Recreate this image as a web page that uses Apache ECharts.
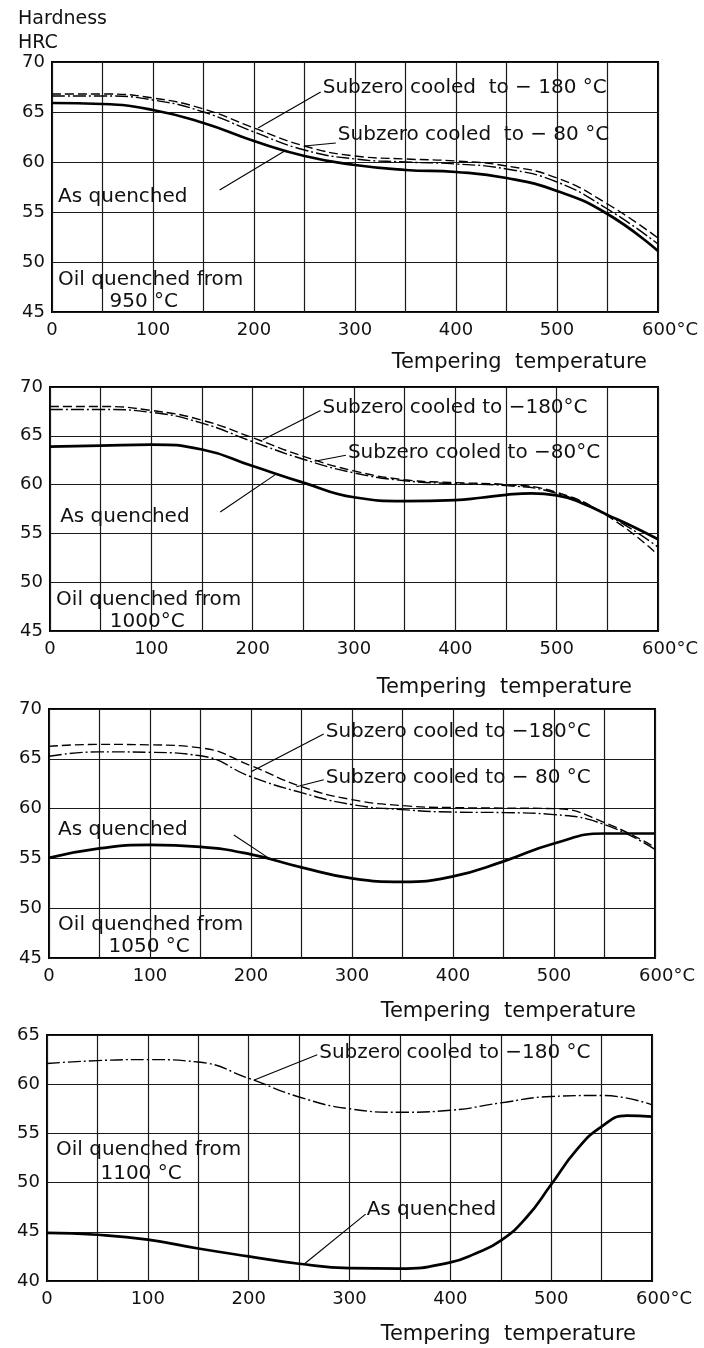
<!DOCTYPE html>
<html>
<head>
<meta charset="utf-8">
<script src="https://cdn.jsdelivr.net/npm/echarts@6/dist/echarts.min.js"></script>
<style>
  html, body { margin: 0; padding: 0; background: #fff; }
  #chart { width: 704px; height: 1348px; }
</style>
</head>
<body>
<div id="chart"></div>
<script>
// Tempering temperatures (°C) at which hardness was read
const temps = [0, 50, 100, 150, 200, 250, 300, 350, 400, 450, 500, 550, 600];
const temps1000q = [0, 50, 100, 150, 200, 250, 300, 350, 400, 425, 450, 475, 500, 525, 550, 575, 600];
const temps1100q = [0, 50, 100, 150, 200, 250, 300, 350, 400, 425, 450, 475, 500, 525, 550, 575, 600];

// Hardness HRC, oil quenched from 950 °C
const aq950 = [65.9, 65.8, 65.2, 63.9, 62.1, 60.6, 59.7, 59.2, 59.0, 58.4, 57.1, 54.8, 51.1];
const sz80_950 = [66.8, 66.8, 66.4, 65.3, 63.4, 61.6, 60.6, 60.3, 60.1, 59.6, 58.4, 55.8, 52.4];
const sz180_950 = [66.6, 66.6, 66.2, 65.0, 63.0, 61.2, 60.3, 60.0, 59.8, 59.3, 58.0, 55.3, 51.8];

// Oil quenched from 1000 °C
const aq1000 = [63.9, 64.0, 64.1, 63.6, 61.9, 60.2, 58.7, 58.3, 58.4, 58.65, 58.95, 59.1, 58.9, 58.1, 56.9, 55.7, 54.4];
const sz80_1000 = [68.0, 68.0, 67.6, 66.6, 64.8, 62.9, 61.4, 60.5, 60.2, 60.0, 59.2, 56.8, 52.8];
const sz180_1000 = [67.7, 67.7, 67.4, 66.3, 64.4, 62.6, 61.2, 60.4, 60.1, 59.9, 59.1, 56.9, 53.6];

// Oil quenched from 1050 °C
const aq1050 = [55.05, 56.0, 56.35, 56.15, 55.4, 54.1, 53.0, 52.65, 53.2, 54.7, 56.5, 57.5, 57.5];
const sz80_1050 = [66.25, 66.45, 66.4, 66.1, 64.3, 62.2, 60.9, 60.3, 60.1, 60.05, 60.0, 58.6, 56.1];
const sz180_1050 = [65.25, 65.7, 65.65, 65.3, 63.2, 61.6, 60.4, 59.9, 59.65, 59.6, 59.4, 58.4, 55.9];

// Oil quenched from 1100 °C
const aq1100 = [44.9, 44.7, 44.2, 43.3, 42.5, 41.75, 41.3, 41.25, 41.9, 42.8, 44.1, 46.4, 49.8, 53.3, 55.7, 56.8, 56.7];
const sz180_1100 = [62.1, 62.4, 62.5, 62.25, 60.6, 58.7, 57.5, 57.15, 57.35, 58.1, 58.75, 58.85, 57.9];

// Axis ranges
const yRanges = [[45, 70], [45, 70], [45, 70], [40, 65]];
const xRange = [0, 600];

const FONT = '"DejaVu Sans", sans-serif';
const INK = '#111';

const gridBoxes = [
  { left: 52, top: 62, width: 606, height: 250 },
  { left: 50, top: 387, width: 608, height: 244 },
  { left: 49, top: 709, width: 606, height: 249 },
  { left: 47, top: 1035, width: 605, height: 246 }
];

const pair = (xs, ys) => xs.map((x, i) => [x, ys[i]]);

const styles = {
  aq: { color: '#000', width: 2.7, type: 'solid' },
  sz80: { color: '#000', width: 1.4, type: [9, 4] },
  sz180: { color: '#000', width: 1.4, type: [13, 3, 2, 3] }
};

const panels = [
  [['As quenched', temps, aq950, 'aq'], ['-80', temps, sz80_950, 'sz80'], ['-180', temps, sz180_950, 'sz180']],
  [['As quenched', temps1000q, aq1000, 'aq'], ['-80', temps, sz80_1000, 'sz80'], ['-180', temps, sz180_1000, 'sz180']],
  [['As quenched', temps, aq1050, 'aq'], ['-80', temps, sz80_1050, 'sz80'], ['-180', temps, sz180_1050, 'sz180']],
  [['As quenched', temps1100q, aq1100, 'aq'], ['-180', temps, sz180_1100, 'sz180']]
];

const gridLine = { show: true, lineStyle: { color: '#1a1a1a', width: 1.2 } };

const option = {
  animation: false,
  backgroundColor: '#fff',
  grid: gridBoxes.map(b => Object.assign({ show: true, borderColor: '#000', borderWidth: 2, backgroundColor: 'transparent' }, b)),
  xAxis: gridBoxes.map((b, i) => ({
    type: 'value', gridIndex: i, min: xRange[0], max: xRange[1], interval: 50,
    axisLine: { show: false }, axisTick: { show: false },
    splitLine: gridLine,
    axisLabel: {
      margin: 9, color: INK, fontFamily: FONT, fontSize: 18,
      formatter: v => v % 100 !== 0 ? '' : (v === 600 ? '{pad|}600{u|°C}' : String(v)),
      rich: { pad: { width: 24 }, u: { fontFamily: FONT, fontSize: 18, color: INK } }
    }
  })),
  yAxis: gridBoxes.map((b, i) => ({
    type: 'value', gridIndex: i, min: yRanges[i][0], max: yRanges[i][1], interval: 5,
    axisLine: { show: false }, axisTick: { show: false },
    splitLine: gridLine,
    axisLabel: { margin: 7, color: INK, fontFamily: FONT, fontSize: 18 }
  })),
  series: []
};

panels.forEach((list, i) => {
  list.forEach(([name, xs, ys, st]) => {
    option.series.push({
      type: 'line', name, xAxisIndex: i, yAxisIndex: i,
      data: pair(xs, ys), smooth: 0.5, showSymbol: false, symbol: 'none',
      lineStyle: styles[st], z: st === 'aq' ? 4 : 3
    });
  });
});

const chart = echarts.init(document.getElementById('chart'), null, { renderer: 'canvas' });
chart.setOption(option);

// Curve labels with their leader lines, placed in each panel's data space
const notes = [
  {
    texts: [['Subzero cooled  to − 180 °C', 268, 67.4], ['Subzero cooled  to − 80 °C', 283, 62.7],
            ['As quenched', 6, 56.5], ['Oil quenched from', 6, 48.2], ['950 °C', 57, 46.0]],
    leaders: [[[266, 67.0], [204, 63.4]], [[281, 61.9], [250, 61.6]], [[166, 57.2], [232, 61.2]]]
  },
  {
    texts: [['Subzero cooled to −180°C', 269, 67.85], ['Subzero cooled to −80°C', 294, 63.3],
            ['As quenched', 10, 56.7], ['Oil quenched from', 6, 48.2], ['1000°C', 59, 45.9]],
    leaders: [[[267, 67.6], [210, 64.6]], [[292, 63.0], [261, 62.4]], [[168, 57.2], [222, 61.0]]]
  },
  {
    texts: [['Subzero cooled to −180°C', 274, 67.7], ['Subzero cooled to − 80 °C', 274, 63.1],
            ['As quenched', 9, 57.9], ['Oil quenched from', 9, 48.3], ['1050 °C', 59, 46.1]],
    leaders: [[[272, 67.5], [200, 63.7]], [[272, 62.9], [245, 62.2]], [[183, 57.35], [218, 55.0]]]
  },
  {
    texts: [['Subzero cooled to −180 °C', 270, 63.2], ['As quenched', 317, 47.2],
            ['Oil quenched from', 9, 53.3], ['1100 °C', 53, 50.9]],
    leaders: [[[268, 63.0], [205, 60.4]], [[316, 46.8], [256, 41.8]]]
  }
];

const graphics = [];
const textEl = (text, x, y, size, align) => ({
  type: 'text', x, y, z: 10,
  style: { text, fill: INK, font: size + 'px ' + FONT, verticalAlign: 'middle', align: align || 'left' }
});

notes.forEach((n, i) => {
  n.texts.forEach(([t, dx, dy]) => {
    const p = chart.convertToPixel({ gridIndex: i }, [dx, dy]);
    graphics.push(textEl(t, p[0], p[1], 20));
  });
  n.leaders.forEach(([a, b]) => {
    const p = chart.convertToPixel({ gridIndex: i }, a);
    const q = chart.convertToPixel({ gridIndex: i }, b);
    graphics.push({ type: 'line', z: 10, shape: { x1: p[0], y1: p[1], x2: q[0], y2: q[1] },
                    style: { stroke: '#000', lineWidth: 1.1 } });
  });
});

// Axis titles
graphics.push(textEl('Hardness', 18, 19, 19));
graphics.push(textEl('HRC', 18, 43, 19));
[[647, 363], [632, 688], [636, 1012], [636, 1335]].forEach(([x, y]) => {
  graphics.push(textEl('Tempering  temperature', x, y, 21, 'right'));
});

chart.setOption({ graphic: graphics });
</script>
</body>
</html>
